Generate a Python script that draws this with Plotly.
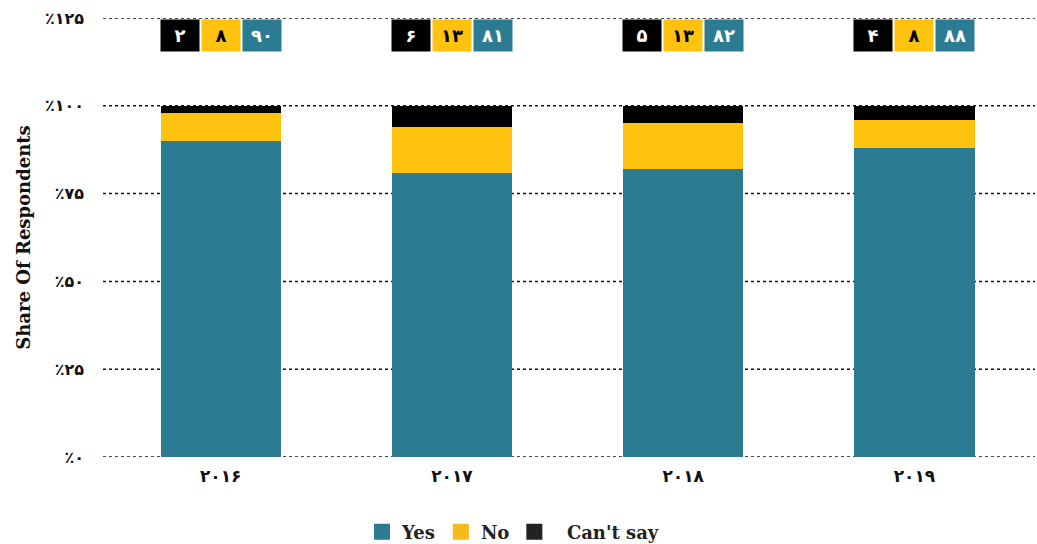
import plotly.graph_objects as go

years = ["۲۰۱۶", "۲۰۱۷", "۲۰۱۸", "۲۰۱۹"]
yes_vals = [90, 81, 82, 88]
no_vals = [8, 13, 13, 8]
cant_vals = [2, 6, 5, 4]
yes_labels = ["۹۰", "۸۱", "۸۲", "۸۸"]
no_labels = ["۸", "۱۳", "۱۳", "۸"]
cant_labels = ["۲", "۶", "۵", "۴"]
tick_vals = [0, 25, 50, 75, 100, 125]
tick_text = ["٪۰", "٪۲۵", "٪۵۰", "٪۷۵", "٪۱۰۰", "٪۱۲۵"]
series_names = ["Yes", "No", "Can't say"]

TEAL = "#2b7b93"
YELLOW = "#ffc20e"
BLACK = "#000000"
colors = [TEAL, YELLOW, BLACK]
legend_colors = [TEAL, "#f5bb1a", "#222222"]

W, H = 1037, 544
ML, MR, MT, MB = 105, 7, 18, 87
PW = W - ML - MR

fig = go.Figure()
for name, vals, col in zip(series_names, [yes_vals, no_vals, cant_vals], colors):
    fig.add_trace(go.Bar(x=years, y=vals, name=name, marker_color=col,
                         marker_line_width=0, showlegend=False))
# legend proxies (bigger square swatches)
for name, col in zip(series_names, legend_colors):
    label = name if name != "Can't say" else "\u00a0\u00a0" + name
    fig.add_trace(go.Scatter(x=[None], y=[None], mode="markers", name=label,
                             marker=dict(symbol="square", size=16, color=col)))

digit_font = "DejaVu Sans"
for i, yr in enumerate(years):
    for lab, bg, fg, shift in [
        (cant_labels[i], BLACK, "white", -41),
        (no_labels[i], YELLOW, "black", 0),
        (yes_labels[i], TEAL, "white", 41),
    ]:
        fig.add_annotation(
            x=yr, y=125, yref="y", xref="x", yanchor="top",
            text=lab, showarrow=False,
            xshift=shift, yshift=-1,
            width=38, height=31, bgcolor=bg, borderpad=0,
            font=dict(family=digit_font, size=18, color=fg, weight="bold"),
            align="center", valign="middle",
        )

# dotted gridlines, extended slightly beyond the plot area as in the reference
gx0 = (103 - ML) / PW
gx1 = (1035 - ML) / PW
for yv in tick_vals:
    fig.add_shape(type="line", xref="paper", yref="y", x0=gx0, x1=gx1, y0=yv, y1=yv,
                  line=dict(color="#111", width=1.5, dash="dot"), layer="below")

fig.update_layout(
    width=W, height=H,
    barmode="stack", bargap=0.48,
    plot_bgcolor="white", paper_bgcolor="white",
    margin=dict(l=ML, r=MR, t=MT, b=MB, autoexpand=False),
    showlegend=True,
    legend=dict(
        orientation="h", x=(362 - ML) / PW, xanchor="left",
        yref="container", y=0.022, yanchor="middle",
        traceorder="normal", itemsizing="trace",
        font=dict(family="DejaVu Serif", size=18, color="#222", weight="bold"),
    ),
    xaxis=dict(
        showgrid=False, showline=False, zeroline=False,
        tickfont=dict(family=digit_font, size=17, color="#111", weight="bold"),
        ticks="", ticklabelstandoff=7, automargin=False,
    ),
    yaxis=dict(
        range=[0, 125], tickvals=tick_vals, ticktext=tick_text,
        showgrid=False,
        zeroline=False, showline=False, automargin=False,
        tickfont=dict(family=digit_font, size=16, color="#111", weight="bold"),
        ticklabelstandoff=20,
        title=dict(text="Share Of Respondents",
                   font=dict(family="DejaVu Serif", size=18, color="#111", weight="bold"),
                   standoff=9),
    ),
)

fig.write_html("out.html", config={"displayModeBar": False},
               post_script="document.body.style.margin='0';document.body.style.padding='0';")
